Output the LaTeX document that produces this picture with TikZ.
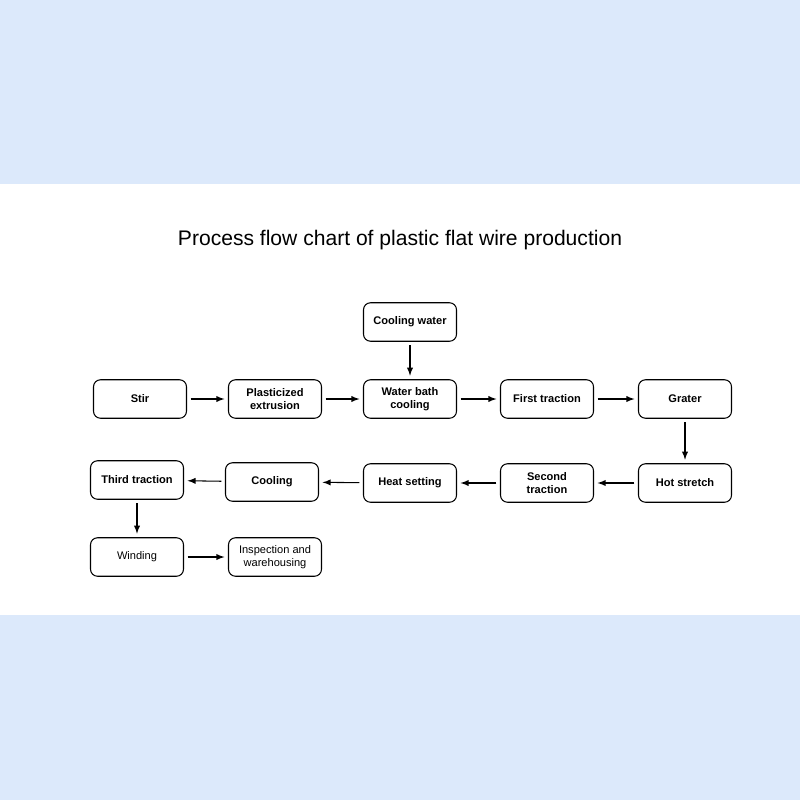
\documentclass[tikz,border=0pt]{standalone}
\usepackage{fontspec}
\setmainfont{Liberation Sans}
\usetikzlibrary{positioning}
\definecolor{pagebg}{RGB}{220,233,251}
\tikzset{
  stepbox/.style={draw,rectangle,rounded corners=4pt,line width=0.6pt,minimum width=1.86cm,minimum height=0.77cm,align=center,font=\fontsize{6.3}{7.2}\selectfont\bfseries,inner sep=1pt},
  plainbox/.style={stepbox,font=\fontsize{6.3}{7.2}\selectfont},
  flow/.style={->,>=latex,line width=0.6pt,shorten >=2pt,shorten <=2pt}
}
\begin{document}
\begin{tikzpicture}[x=0.02cm,y=-0.02cm]
\fill[pagebg] (0,0) rectangle (800,800);
\fill[white] (0,184) rectangle (800,615);
\useasboundingbox (0,0) rectangle (800,800);
%title
\node (title) at (400,240) {\fontsize{12}{14}\selectfont Process flow chart of plastic flat wire production};
%first row
\node (stir) at (140,399) [stepbox] {Stir};
\node (plast) at (275,399) [stepbox] {Plasticized\\extrusion};
\node (bath) at (410,399) [stepbox] {Water bath\\cooling};
\node (first) at (547,399) [stepbox] {First traction};
\node (grater) at (685,399) [stepbox] {Grater};
\node (water) at (410,322) [stepbox] {Cooling water};
%second row
\node (hot) at (685,483) [stepbox] {Hot stretch};
\node (second) at (547,483) [stepbox] {Second\\traction};
\node (heat) at (410,483) [stepbox] {Heat setting};
\node (cool) at (272,482) [stepbox] {Cooling};
\node (third) at (137,480) [stepbox] {Third traction};
%third row
\node (wind) at (137,557) [plainbox] {Winding};
\node (insp) at (275,557) [plainbox] {Inspection and\\warehousing};
%arrows
\draw [flow] (stir) -- (plast);
\draw [flow] (plast) -- (bath);
\draw [flow] (bath) -- (first);
\draw [flow] (first) -- (grater);
\draw [flow] (water) -- (bath);
\draw [flow] (grater) -- (hot);
\draw [flow] (hot) -- (second);
\draw [flow] (second) -- (heat);
\draw [flow] (heat) -- (cool);
\draw [flow] (cool) -- (third);
\draw [flow] (third) -- (wind);
\draw [flow] (wind) -- (insp);
\end{tikzpicture}
\end{document}
